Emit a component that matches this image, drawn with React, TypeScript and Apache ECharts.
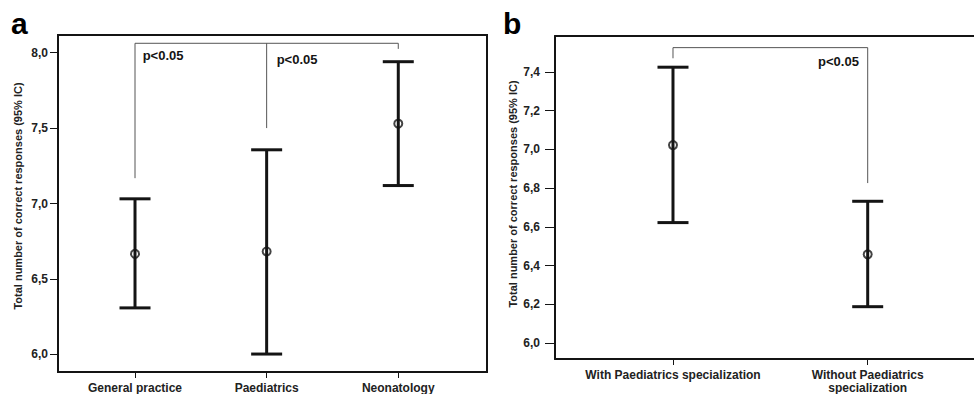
import React, { useEffect, useRef } from "react";
import * as echarts from "echarts";

// ---------- Data ----------
const categoriesA = ["General practice", "Paediatrics", "Neonatology"];
const meanA = [6.666, 6.682, 7.529];
const lowA = [6.308, 6.002, 7.119];
const highA = [7.031, 7.356, 7.94];
const yTicksA = [6.0, 6.5, 7.0, 7.5, 8.0];
// bracket (significance) lines for panel a, in data units: [categoryIndex, value]
const bracketA = [[0, 7.168], [0, 8.062], [2, 8.062], [2, 8.025]];
const bracketAMid = [[1, 7.5], [1, 8.062]];
const pLabelsA = [[0.058, 7.978], [1.076, 7.956]];

const categoriesB = ["With Paediatrics specialization", "Without Paediatrics\nspecialization"];
const meanB = [7.022, 6.458];
const lowB = [6.622, 6.188];
const highB = [7.424, 6.732];
const yTicksB = [6.0, 6.2, 6.4, 6.6, 6.8, 7.0, 7.2, 7.4];
const bracketB = [[0, 7.47], [0, 7.525], [1, 7.525], [1, 6.826]];
const pLabelsB = [[0.745, 7.453]];

const pText = "p<0.05";
const yTitle = "Total number of correct responses (95% IC)";

const FONT = "Liberation Sans, Arial, sans-serif";
const INK = "#141414";

function errorBarSeries(xi: number, low: number[], high: number[]) {
  return {
    type: "custom",
    xAxisIndex: xi,
    yAxisIndex: xi,
    silent: true,
    data: low.map((l, i) => [i, l, high[i]]),
    encode: { x: 0, y: [1, 2] },
    renderItem: (params: any, api: any) => {
      const x = api.value(0);
      const pLo = api.coord([x, api.value(1)]);
      const pHi = api.coord([x, api.value(2)]);
      const hw = 15.5;
      const st = { stroke: INK, lineWidth: 3 };
      return {
        type: "group",
        children: [
          { type: "line", shape: { x1: pLo[0], y1: pLo[1], x2: pHi[0], y2: pHi[1] }, style: st },
          { type: "line", shape: { x1: pLo[0] - hw, y1: pLo[1], x2: pLo[0] + hw, y2: pLo[1] }, style: st },
          { type: "line", shape: { x1: pHi[0] - hw, y1: pHi[1], x2: pHi[0] + hw, y2: pHi[1] }, style: st },
        ],
      };
    },
  };
}

function meanSeries(xi: number, mean: number[]) {
  return {
    type: "scatter",
    xAxisIndex: xi,
    yAxisIndex: xi,
    silent: true,
    symbol: "circle",
    symbolSize: 8,
    itemStyle: { color: "transparent", borderColor: INK, borderWidth: 2 },
    data: mean.map((m, i) => [i, m]),
    z: 5,
  };
}

function bracketSeries(xi: number, pts: number[][]) {
  return {
    type: "line",
    xAxisIndex: xi,
    yAxisIndex: xi,
    silent: true,
    symbol: "none",
    lineStyle: { color: "#555", width: 1 },
    data: pts,
  };
}

function pLabelSeries(xi: number, pts: number[][]) {
  return {
    type: "custom",
    xAxisIndex: xi,
    yAxisIndex: xi,
    silent: true,
    data: pts,
    renderItem: (params: any, api: any) => {
      const p = api.coord([api.value(0), api.value(1)]);
      return {
        type: "text",
        x: p[0],
        y: p[1],
        style: {
          text: pText,
          fill: INK,
          font: `bold 13px ${FONT}`,
          align: "left",
          verticalAlign: "middle",
        },
      };
    },
  };
}

function yAxisCfg(gi: number, min: number, max: number, ticks: number[], tickLen: number, margin: number) {
  return {
    type: "value",
    gridIndex: gi,
    min,
    max,
    splitLine: { show: false },
    axisLine: { show: true, onZero: false, lineStyle: { color: INK, width: 2 } },
    axisTick: { show: true, length: tickLen, customValues: ticks, lineStyle: { color: INK, width: 1 } },
    axisLabel: {
      customValues: ticks,
      margin,
      color: "#222",
      fontFamily: FONT,
      fontWeight: "bold",
      fontSize: 12,
      formatter: (v: number) => v.toFixed(1).replace(".", ","),
    },
  };
}

function xAxisCfg(gi: number, min: number, max: number, cats: string[]) {
  const vals = cats.map((_, i) => i);
  return {
    type: "value",
    gridIndex: gi,
    min,
    max,
    splitLine: { show: false },
    axisLine: { show: true, onZero: false, lineStyle: { color: INK, width: 2 } },
    axisTick: { show: true, length: 6, customValues: vals, lineStyle: { color: INK, width: 1 } },
    axisLabel: {
      customValues: vals,
      margin: 9,
      color: "#222",
      fontFamily: FONT,
      fontWeight: "bold",
      fontSize: 12,
      lineHeight: 13,
      formatter: (v: number) => cats[Math.round(v)],
    },
  };
}

export default function App() {
  const ref = useRef<HTMLDivElement>(null);
  useEffect(() => {
    if (!ref.current) return;
    const chart = echarts.init(ref.current, null, { renderer: "svg" });
    chart.setOption({
      animation: false,
      backgroundColor: "#fff",
      grid: [
        { left: 58, top: 35, right: 487, bottom: 22, show: true, borderColor: INK, borderWidth: 2, backgroundColor: "transparent" },
        // panel b runs off the right edge of the picture: no right border
        { left: 555, top: 36, right: 0, bottom: 33, show: false },
      ],
      xAxis: [
        xAxisCfg(0, -0.585, 2.674, categoriesA),
        xAxisCfg(1, -0.606, 1.546, categoriesB),
        {
          type: "value",
          gridIndex: 1,
          position: "top",
          min: -0.606,
          max: 1.546,
          splitLine: { show: false },
          axisLine: { show: true, onZero: false, lineStyle: { color: INK, width: 2 } },
          axisTick: { show: false },
          axisLabel: { show: false },
        },
      ],
      yAxis: [
        yAxisCfg(0, 5.883, 8.117, yTicksA, 8, 10),
        yAxisCfg(1, 5.918, 7.585, yTicksB, 10, 15),
      ],
      graphic: [
        { type: "text", x: 11, y: 23, style: { text: "a", font: `bold 30px ${FONT}`, fill: "#000", verticalAlign: "middle" } },
        { type: "text", x: 503, y: 23, style: { text: "b", font: `bold 30px ${FONT}`, fill: "#000", verticalAlign: "middle" } },
        {
          type: "text", x: 18, y: 196, rotation: Math.PI / 2,
          style: { text: yTitle, font: `bold 11px ${FONT}`, fill: "#222", align: "center", verticalAlign: "middle" },
        },
        {
          type: "text", x: 513, y: 194, rotation: Math.PI / 2,
          style: { text: yTitle, font: `bold 11px ${FONT}`, fill: "#222", align: "center", verticalAlign: "middle" },
        },
      ],
      series: [
        bracketSeries(0, bracketA),
        bracketSeries(0, bracketAMid),
        pLabelSeries(0, pLabelsA),
        errorBarSeries(0, lowA, highA),
        meanSeries(0, meanA),
        bracketSeries(1, bracketB),
        pLabelSeries(1, pLabelsB),
        errorBarSeries(1, lowB, highB),
        meanSeries(1, meanB),
      ],
    });
    return () => chart.dispose();
  }, []);
  return (
    <div
      ref={ref}
      style={{ position: "fixed", left: 0, top: 0, width: 974, height: 394, background: "#fff" }}
    />
  );
}
